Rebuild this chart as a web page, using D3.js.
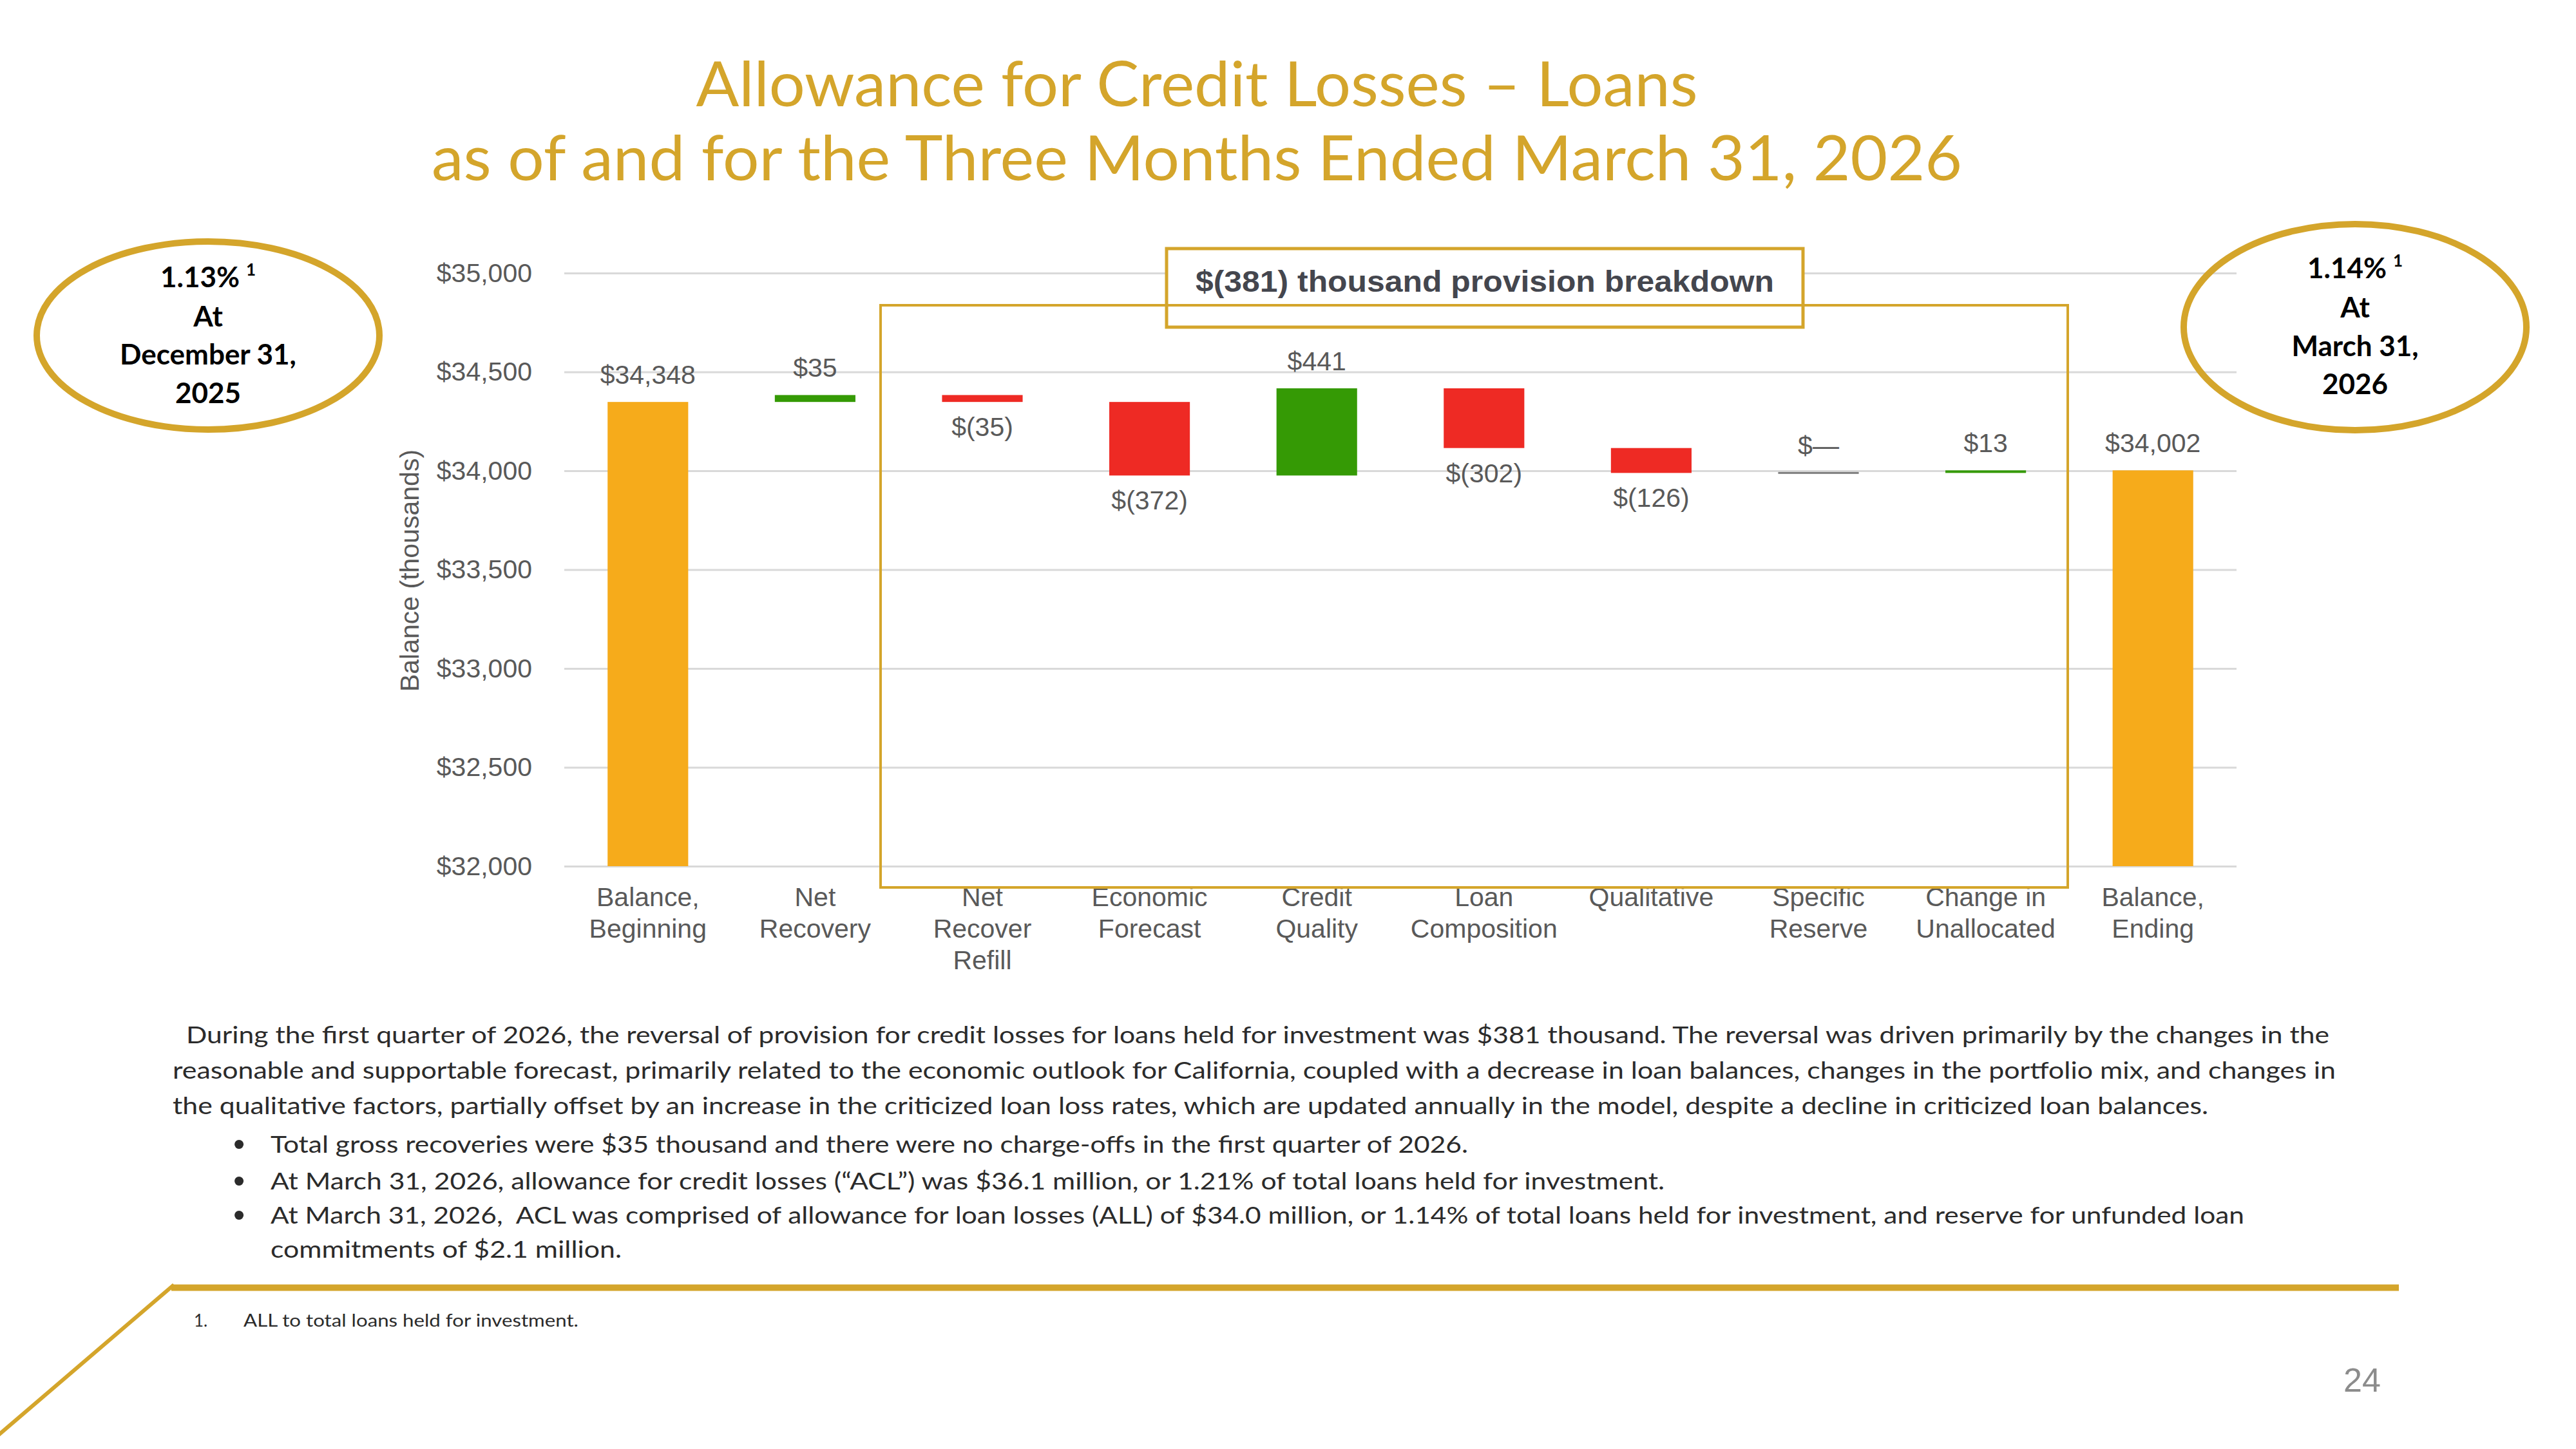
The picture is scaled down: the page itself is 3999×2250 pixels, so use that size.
<!DOCTYPE html>
<html>
<head>
<meta charset="utf-8">
<script src="https://cdn.jsdelivr.net/npm/d3@7"></script>
<style>
html,body{margin:0;padding:0;background:#fff;}
svg{display:block;}
</style>
</head>
<body>
<svg id="c" width="3999" height="2250"></svg>
<script>
// ---------- DATA ----------
const titleLines = ["Allowance for Credit Losses – Loans", "as of and for the Three Months Ended March 31, 2026"];
const categories = ["Balance,\nBeginning", "Net\nRecovery", "Net\nRecover\nRefill", "Economic\nForecast", "Credit\nQuality",
                    "Loan\nComposition", "Qualitative", "Specific\nReserve", "Change in\nUnallocated", "Balance,\nEnding"];
const kinds = ["total", "delta", "delta", "delta", "delta", "delta", "delta", "delta", "delta", "total"];
const values = [34348, 35, -35, -372, 441, -302, -126, 0, 13, 34002];
const valueLabels = ["$34,348", "$35", "$(35)", "$(372)", "$441", "$(302)", "$(126)", "$—", "$13", "$34,002"];
const yTicks = [32000, 32500, 33000, 33500, 34000, 34500, 35000];
const yTitle = "Balance (thousands)";
const boxTitle = "$(381) thousand provision breakdown";
const leftBubble = ["1.13%", "At", "December 31,", "2025"];
const rightBubble = ["1.14%", "At", "March 31,", "2026"];
const paragraphLines = [
  "During the first quarter of 2026, the reversal of provision for credit losses for loans held for investment was $381 thousand. The reversal was driven primarily by the changes in the",
  "reasonable and supportable forecast, primarily related to the economic outlook for California, coupled with a decrease in loan balances, changes in the portfolio mix, and changes in",
  "the qualitative factors, partially offset by an increase in the criticized loan loss rates, which are updated annually in the model, despite a decline in criticized loan balances."
];
const bulletLines = [
  "Total gross recoveries were $35 thousand and there were no charge-offs in the first quarter of 2026.",
  "At March 31, 2026, allowance for credit losses (“ACL”) was $36.1 million, or 1.21% of total loans held for investment.",
  "At March 31, 2026,  ACL was comprised of allowance for loan losses (ALL) of $34.0 million, or 1.14% of total loans held for investment, and reserve for unfunded loan",
  "commitments of $2.1 million."
];
const footnote = ["1.", "ALL to total loans held for investment."];
const pageNumber = "24";

// ---------- STYLE ----------
const GOLD = "#D4A52B";
const C_TOTAL = "#F6AB1B", C_UP = "#359A05", C_DOWN = "#EE2A24", C_ZERO = "#808080";
const ARIAL = "'Liberation Sans', Arial, sans-serif";
const CAL = "Lato, 'Open Sans', sans-serif";
const svg = d3.select("#c");

// ---------- TITLE ----------
const titlePos = [{y: 165, len: 1555}, {y: 280, len: 2376}];
titleLines.forEach((t, i) => {
  svg.append("text").attr("x", 1858).attr("y", titlePos[i].y)
    .attr("text-anchor", "middle").attr("font-family", CAL).attr("font-size", 96)
    .attr("fill", GOLD).attr("textLength", titlePos[i].len).attr("lengthAdjust", "spacingAndGlyphs")
    .text(t);
});

// ---------- SCALES ----------
const x = d3.scaleBand().domain(d3.range(categories.length)).range([876, 3472])
  .paddingInner(0.518).paddingOuter(0.259);
const y = d3.scaleLinear().domain([32000, 35000]).range([1345, 424]);

// ---------- Y AXIS + GRID ----------
const yAxis = d3.axisLeft(y).tickValues(yTicks).tickSize(-(3472 - 876)).tickPadding(50)
  .tickFormat(d => "$" + d3.format(",")(d));
const gy = svg.append("g").attr("transform", "translate(876,0)").call(yAxis);
gy.select(".domain").remove();
gy.selectAll(".tick line").attr("stroke", "#D9D9D9").attr("stroke-width", 3);
gy.selectAll(".tick text").attr("font-family", ARIAL).attr("font-size", 41).attr("fill", "#595959");

svg.append("text").attr("transform", "translate(650,886) rotate(-90)")
  .attr("text-anchor", "middle").attr("font-family", ARIAL).attr("font-size", 41)
  .attr("fill", "#595959").text(yTitle);

// ---------- PROVISION BOX (white, behind) ----------
svg.append("rect").attr("x", 1811).attr("y", 386).attr("width", 988).attr("height", 122)
  .attr("fill", "#fff").attr("stroke", GOLD).attr("stroke-width", 5);
svg.append("text").attr("x", 2305).attr("y", 453).attr("text-anchor", "middle")
  .attr("font-family", ARIAL).attr("font-weight", "bold").attr("font-size", 46)
  .attr("fill", "#44464E").attr("textLength", 898).attr("lengthAdjust", "spacingAndGlyphs")
  .text(boxTitle);

// ---------- WATERFALL ----------
let running = 0;
const bars = values.map((v, i) => {
  if (kinds[i] === "total") { running = v; return {i, a: y.domain()[0], b: v, kind: "total"}; }
  const s = running; running += v;
  return {i, a: s, b: running, kind: v > 0 ? "up" : (v < 0 ? "down" : "zero")};
});
const color = k => k === "total" ? C_TOTAL : k === "up" ? C_UP : k === "down" ? C_DOWN : C_ZERO;

svg.append("g").selectAll("rect").data(bars).join("rect")
  .attr("x", d => x(d.i)).attr("width", x.bandwidth())
  .attr("y", d => d.kind === "zero" ? y(d.a) - 1.5 : y(Math.max(d.a, d.b)))
  .attr("height", d => d.kind === "zero" ? 3 : Math.abs(y(d.a) - y(d.b)))
  .attr("fill", d => color(d.kind));

svg.append("g").selectAll("text").data(bars).join("text")
  .attr("x", d => x(d.i) + x.bandwidth() / 2)
  .attr("y", d => d.kind === "down" ? y(Math.min(d.a, d.b)) + 53 : y(Math.max(d.a, d.b)) - 28)
  .attr("text-anchor", "middle").attr("font-family", ARIAL).attr("font-size", 41).attr("fill", "#595959")
  .text(d => valueLabels[d.i]);

// ---------- CATEGORY LABELS ----------
const cl = svg.append("g").selectAll("text").data(categories).join("text")
  .attr("text-anchor", "middle").attr("font-family", ARIAL).attr("font-size", 41).attr("fill", "#595959");
cl.each(function(c, i) {
  const t = d3.select(this);
  c.split("\n").forEach((line, j) => {
    t.append("tspan").attr("x", x(i) + x.bandwidth() / 2).attr("y", 1407 + j * 49).text(line);
  });
});

// ---------- BIG BREAKDOWN BOX ----------
svg.append("rect").attr("x", 1367).attr("y", 474).attr("width", 1843).attr("height", 904)
  .attr("fill", "none").attr("stroke", GOLD).attr("stroke-width", 4);

// ---------- BUBBLES ----------
function bubble(cx, cy, rx, ry, lines, baselines) {
  svg.append("ellipse").attr("cx", cx).attr("cy", cy).attr("rx", rx).attr("ry", ry)
    .attr("fill", "none").attr("stroke", GOLD).attr("stroke-width", 10);
  lines.forEach((l, i) => {
    const t = svg.append("text").attr("x", cx).attr("y", baselines[i]).attr("text-anchor", "middle")
      .attr("font-family", CAL).attr("font-weight", "bold").attr("font-size", 44).attr("fill", "#000");
    t.append("tspan").text(l);
    if (i === 0) t.append("tspan").attr("dx", 10).attr("dy", -18).attr("font-size", 26).text("1");
  });
}
bubble(323, 521, 266, 146, leftBubble, [446, 507, 566, 626]);
bubble(3656, 508, 266, 160, rightBubble, [432, 493, 553, 612]);

// ---------- PARAGRAPH ----------
const paraPos = [{x: 289, y: 1620, len: 3327}, {x: 268, y: 1675, len: 3358}, {x: 268, y: 1730, len: 3160}];
paragraphLines.forEach((l, i) => {
  svg.append("text").attr("x", paraPos[i].x).attr("y", paraPos[i].y)
    .attr("font-family", CAL).attr("font-size", 37).attr("fill", "#2b2b2b")
    .attr("textLength", paraPos[i].len).attr("lengthAdjust", "spacingAndGlyphs").text(l);
});
const bulPos = [{y: 1790, len: 1859, dot: true}, {y: 1847, len: 2164, dot: true}, {y: 1900, len: 3064, dot: true}, {y: 1953, len: 545, dot: false}];
bulletLines.forEach((l, i) => {
  if (bulPos[i].dot) {
    svg.append("text").attr("x", 371).attr("y", bulPos[i].y + 4).attr("text-anchor", "middle")
      .attr("font-family", ARIAL).attr("font-size", 52).attr("fill", "#2b2b2b").text("•");
  }
  svg.append("text").attr("x", 420).attr("y", bulPos[i].y)
    .attr("font-family", CAL).attr("font-size", 37).attr("fill", "#2b2b2b")
    .attr("textLength", bulPos[i].len).attr("lengthAdjust", "spacingAndGlyphs")
    .style("white-space", "pre").text(l);
});

// ---------- FOOTER RULE ----------
svg.append("line").attr("x1", 266).attr("y1", 1999.5).attr("x2", 3724).attr("y2", 1999.5)
  .attr("stroke", GOLD).attr("stroke-width", 10);
svg.append("line").attr("x1", 270).attr("y1", 1995).attr("x2", -2).attr("y2", 2228)
  .attr("stroke", GOLD).attr("stroke-width", 6);

svg.append("text").attr("x", 301).attr("y", 2060).attr("font-family", CAL).attr("font-size", 26)
  .attr("fill", "#2b2b2b").text(footnote[0]);
svg.append("text").attr("x", 378).attr("y", 2060).attr("font-family", CAL).attr("font-size", 26)
  .attr("fill", "#2b2b2b").attr("textLength", 520).attr("lengthAdjust", "spacingAndGlyphs").text(footnote[1]);

svg.append("text").attr("x", 3667).attr("y", 2161).attr("text-anchor", "middle")
  .attr("font-family", ARIAL).attr("font-size", 52).attr("fill", "#8C8C8C").text(pageNumber);
</script>
</body>
</html>
